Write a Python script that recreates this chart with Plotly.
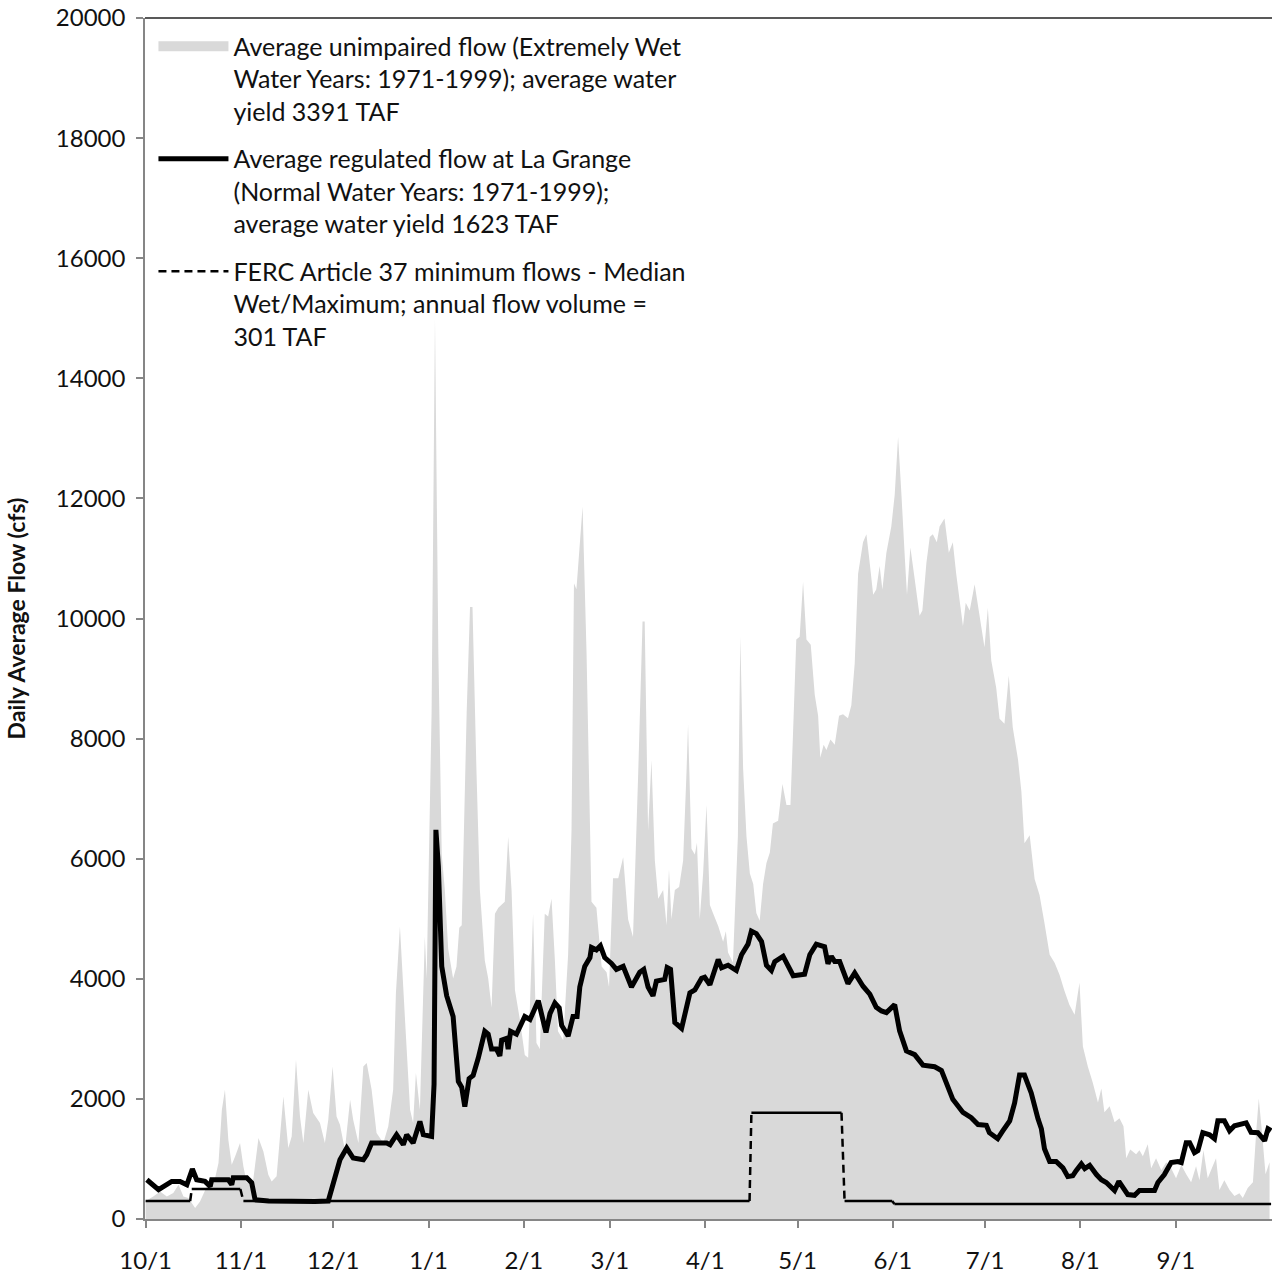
import pandas as pd
import plotly.graph_objects as go

WATER_YEAR_START = "2000-10-01"

# Average unimpaired flow (days since 10/1, cfs)
UNIMPAIRED_DAY = [0, 2.5, 4.7, 6.9, 9, 10.7, 12.3, 13.9, 16.1, 17.7, 19.9, 22.6, 23.7, 24.8, 25.8, 26.9, 28, 29.1,
                  30.7, 31.8, 32.9, 35, 36.7, 38.3, 39.9, 41, 42.6, 44.8, 46.4, 47.5, 48.9, 50.2, 51.3, 52.9, 54.5,
                  56.7, 58.3, 59.4, 60.8, 62.1, 63.2, 64.8, 66.5, 67.5, 69.2, 70.8, 71.9, 73.5, 75.1, 77.3, 78.9,
                  80.5, 81.4, 82.7, 84.3, 86, 87, 87.9, 89.2, 90.8, 91.4, 93, 94.1, 95.2, 96.3, 97.3, 98.4, 100,
                  101.1, 102, 102.8, 104.4, 105.5, 106.3, 107.6, 108.7, 110.3, 111.4, 112.5, 113.6, 114.7, 116.8,
                  117.9, 119, 120.1, 121.7, 123.3, 124.4, 126, 127.1, 128.2, 129.8, 130.9, 132, 133.1, 134.1, 135.8,
                  137.4, 138.5, 139.3, 140.1, 142.1, 143.4, 145, 146.6, 148.3, 149.9, 150.7, 152, 153.7, 155.3,
                  156.9, 158.5, 160.2, 161.6, 162.3, 163.4, 164.5, 165.6, 166.7, 168.3, 169.4, 170.2, 171, 172.1,
                  173.5, 174.8, 175.9, 176.4, 177.5, 178.6, 179.3, 180.2, 181.3, 182.4, 183.5, 184.5, 186.2, 187.8,
                  188.7, 189.4, 191, 192.6, 193.4, 194.3, 195.4, 196.5, 197.6, 198.6, 199.7, 200.8, 201.9, 203, 204,
                  205.7, 207.1, 208.4, 209.7, 210.5, 211.6, 212.7, 213.8, 214.9, 216.3, 217.6, 218.7, 219.4, 220.5,
                  221.4, 222.7, 224.1, 225.5, 226.8, 228.4, 229.5, 230.6, 231.7, 233.3, 234.4, 235.3, 236.6, 237.6,
                  238.7, 239.6, 240.9, 242.5, 243.6, 244.7, 245.8, 246.9, 247.6, 248.7, 250.1, 251.7, 252.6, 253.9,
                  255, 256, 257.3, 258.2, 259.8, 261.2, 262.5, 263.6, 265.8, 266.7, 268, 269.6, 271.2, 272.8, 273.9,
                  275, 276.6, 277.7, 279.3, 280.7, 282, 283.7, 284.8, 285.8, 287.5, 289.1, 290.7, 292.3, 294, 295.6,
                  297.2, 298.8, 300.4, 302.1, 303.7, 304.8, 306.4, 308, 309.7, 310.8, 311.8, 313.5, 315.1, 316.7,
                  318, 318.9, 320.2, 322.1, 323.2, 324.3, 325.9, 327, 328.6, 330.3, 331.9, 333.5, 335.1, 336.8,
                  338.4, 340, 341.6, 342.7, 344, 345.4, 347, 348.1, 349.2, 350.8, 352.5, 354.1, 355.7, 356.8, 358.4,
                  360.1, 361.2, 362, 363.1, 364.2, 365.5]
UNIMPAIRED_CFS = [300, 376, 460, 376, 433, 571, 376, 350, 183, 293, 543, 683, 932, 1820, 2153, 1320, 904, 1042,
                  1265, 876, 599, 654, 1349, 1126, 738, 626, 710, 2041, 1182, 1375, 2652, 1708, 1265, 2153, 1765,
                  1598, 1265, 1654, 2541, 1708, 1570, 1154, 1986, 1654, 1265, 2541, 2597, 2153, 1432, 1265, 1542,
                  2153, 3762, 4872, 3373, 1820, 1598, 2430, 1820, 4700, 4004, 8430, 15000, 9407, 6068, 5483, 4497,
                  4004, 4206, 4850, 4893, 8424, 10193, 10193, 7443, 5478, 4304, 4010, 3518, 5085, 5185, 5284, 6364,
                  5478, 3813, 3322, 2730, 2685, 5085, 2929, 2830, 5085, 5036, 5331, 4304, 3125, 2978, 4403, 6464,
                  10585, 10487, 11863, 9407, 5284, 5185, 4206, 4108, 3863, 5676, 5676, 6024, 4990, 4695, 7443, 9950,
                  9950, 6464, 7640, 5970, 5331, 5478, 4893, 5826, 4990, 5478, 5527, 5970, 7443, 8235, 6166, 6068,
                  6265, 4990, 5754, 6893, 5228, 5097, 4878, 4616, 4790, 4440, 4270, 6368, 9695, 7509, 6368, 5754,
                  5579, 5097, 4966, 5579, 5929, 6104, 6586, 6630, 7243, 6893, 6893, 8031, 9650, 9695, 10614, 9650,
                  9563, 8729, 8380, 7680, 7899, 7811, 7986, 7899, 8380, 8407, 8337, 8555, 9256, 10745, 11271, 11403,
                  11008, 10395, 10482, 10876, 10482, 11096, 11534, 12058, 13023, 12058, 11008, 10395, 11184, 10659,
                  10045, 10132, 10920, 11358, 11403, 11271, 11534, 11666, 11096, 11271, 10745, 9870, 10264, 10132,
                  10570, 10045, 9520, 10176, 9300, 8850, 8330, 8248, 9046, 8183, 7651, 7119, 6257, 6390, 5660, 5395,
                  4930, 4399, 4266, 4067, 3801, 3568, 3402, 3934, 2872, 2540, 2274, 1942, 2175, 1776, 1876, 1610,
                  1676, 1543, 1012, 1158, 1078, 1145, 1045, 1244, 845, 1012, 812, 945, 845, 679, 900, 745, 612, 878,
                  645, 1145, 679, 878, 1012, 483, 645, 483, 383, 429, 350, 516, 612, 1476, 2006, 1410, 745, 945]

# Average regulated flow at La Grange (days since 10/1, cfs)
REGULATED_DAY = [0.4, 4.2, 8.5, 11.2, 13.4, 15.2, 16.6, 19.3, 21, 21.5, 26.9, 28, 28.5, 32.9, 34.5, 35.6, 40, 45, 50,
                 55, 59.4, 61.6, 63.2, 65.4, 67.5, 70.8, 71.9, 73.5, 78.4, 79.5, 81.6, 83.8, 84.9, 87, 89.2, 90.3, 93,
                 93.8, 94.4, 95.2, 96.3, 97.9, 100, 101.7, 102.8, 103.8, 105.2, 106.5, 108.2, 110.3, 111.4, 112.5,
                 114.1, 115.2, 115.8, 117.4, 117.9, 118.7, 120.6, 123.3, 125, 127.7, 130.2, 131.5, 133.1, 134.5,
                 135.3, 137.4, 139, 140.3, 141.2, 142.8, 144.5, 145, 146.6, 147.9, 149.3, 151.5, 153.1, 155.3, 158,
                 160.7, 162, 163.4, 165, 166.1, 168.8, 169.6, 170.7, 172.1, 174.3, 177, 178.6, 180.8, 181.8, 183.5,
                 186.2, 187.3, 189.4, 192.1, 193.8, 195.9, 197, 198.6, 200.3, 201.9, 203.5, 204.6, 207.3, 210.6,
                 214.3, 216, 218.1, 220.8, 221.9, 223, 224.1, 225.7, 228.4, 230.6, 233.3, 235.5, 237.6, 239.3, 240.9,
                 243.6, 245.2, 247.4, 250.1, 252.8, 256.6, 258.8, 262.5, 265.8, 268.5, 270.7, 273.4, 274.4, 277.1,
                 278.8, 281, 282.6, 284.2, 285.8, 288, 290.2, 291.3, 292.3, 294, 296.1, 298.3, 299.9, 301.5, 302.6,
                 304.3, 305.4, 307, 309.2, 310.8, 312.4, 315.1, 316.5, 317.8, 319.4, 321.6, 323.2, 328.1, 329.2,
                 331.3, 333.5, 335.7, 336.8, 338.4, 339.5, 341.1, 342.2, 343.8, 346, 347.6, 348.7, 350.8, 352.5,
                 354.1, 357.3, 357.9, 359.5, 361.7, 363.9, 365, 366]
REGULATED_CFS = [654, 488, 626, 626, 571, 832, 654, 626, 543, 654, 654, 571, 688, 688, 604, 321, 300, 290, 300,
                 290, 300, 710, 987, 1182, 1016, 987, 1071, 1265, 1265, 1237, 1404, 1237, 1404, 1265, 1625, 1405,
                 1375, 2240, 6480, 5876, 4206, 3718, 3372, 2291, 2193, 1870, 2339, 2389, 2685, 3125, 3077, 2830,
                 2830, 2714, 2978, 3008, 2830, 3125, 3077, 3372, 3322, 3636, 3107, 3420, 3598, 3518, 3223, 3047,
                 3372, 3372, 3863, 4206, 4354, 4521, 4482, 4550, 4354, 4256, 4157, 4206, 3863, 4108, 4157, 3863,
                 3715, 3961, 3990, 4187, 4157, 3273, 3175, 3765, 3813, 4009, 4026, 3901, 4320, 4184, 4226, 4139,
                 4401, 4577, 4795, 4752, 4620, 4226, 4139, 4287, 4376, 4051, 4077, 4401, 4577, 4533, 4252, 4376,
                 4287, 4287, 3920, 4096, 3876, 3745, 3526, 3465, 3438, 3570, 3132, 2799, 2737, 2562, 2536, 2474,
                 1993, 1775, 1686, 1573, 1560, 1437, 1337, 1470, 1635, 1933, 2398, 2398, 2099, 1668, 1502, 1170, 957,
                 957, 852, 706, 719, 806, 918, 840, 893, 740, 653, 607, 474, 627, 541, 407, 395, 474, 474, 607, 740,
                 939, 957, 939, 1271, 1271, 1104, 1137, 1437, 1403, 1337, 1635, 1635, 1470, 1553, 1582, 1602, 1444,
                 1437, 1303, 1502, 1470]

# FERC Article 37 minimum flow schedule (step segments, days since 10/1)
FERC_START_DAY = [0, 15, 31.8, 197, 227.3, 243.5]
FERC_END_DAY = [14.5, 30.8, 196.4, 226.3, 242.8, 366]
FERC_CFS = [300, 500, 300, 1770, 300, 250]

TICK_DATES = ["2000-10-01", "2000-11-01", "2000-12-01", "2001-01-01", "2001-02-01", "2001-03-01",
              "2001-04-01", "2001-05-01", "2001-06-01", "2001-07-01", "2001-08-01", "2001-09-01"]
TICK_LABELS = ["10/1", "11/1", "12/1", "1/1", "2/1", "3/1", "4/1", "5/1", "6/1", "7/1", "8/1", "9/1"]

NAME_UNIMP = "Average unimpaired flow (Extremely Wet<br>Water Years: 1971-1999); average water<br>yield 3391 TAF"
NAME_REG = "Average regulated flow at La Grange<br>(Normal Water Years: 1971-1999);<br>average water yield 1623 TAF"
NAME_FERC = "FERC Article 37 minimum flows - Median<br>Wet/Maximum; annual flow volume =<br>301 TAF"

start = pd.Timestamp(WATER_YEAR_START)


def to_dates(days):
    return [start + pd.Timedelta(days=d) for d in days]


FONT = "Lato"
TXT = "#111111"
GRAY = "#d9d9d9"

fig = go.Figure()

fig.add_trace(go.Scatter(
    x=to_dates(UNIMPAIRED_DAY), y=UNIMPAIRED_CFS, mode="none", fill="tozeroy",
    fillcolor=GRAY, showlegend=False, legendgroup="a",
))
# legend swatch for the unimpaired-flow area (a wide gray band, like the reference)
fig.add_trace(go.Scatter(
    x=[None], y=[None], mode="lines", line=dict(color=GRAY, width=12),
    name=NAME_UNIMP, legendgroup="a", legendrank=1,
))

# FERC solid horizontal segments
fx, fy = [], []
for s, e, v in zip(FERC_START_DAY, FERC_END_DAY, FERC_CFS):
    fx += to_dates([s, e]) + [None]
    fy += [v, v, None]
fig.add_trace(go.Scatter(x=fx, y=fy, mode="lines", line=dict(color="black", width=2.5),
                         showlegend=False, legendgroup="c", hoverinfo="skip"))
# FERC dashed transitions
dx, dy = [], []
for i in range(len(FERC_CFS) - 1):
    dx += to_dates([FERC_END_DAY[i], FERC_START_DAY[i + 1]]) + [None]
    dy += [FERC_CFS[i], FERC_CFS[i + 1], None]
fig.add_trace(go.Scatter(x=dx, y=dy, mode="lines", line=dict(color="black", width=2.5, dash="8px,5px"),
                         name=NAME_FERC, legendgroup="c", legendrank=3))

fig.add_trace(go.Scatter(
    x=to_dates(REGULATED_DAY), y=REGULATED_CFS, mode="lines",
    line=dict(color="black", width=5), name=NAME_REG, legendgroup="b", legendrank=2,
))

fig.add_shape(type="line", xref="paper", yref="paper", x0=0, x1=1, y0=1, y1=1,
              line=dict(color="#222222", width=1.5))

fig.update_layout(
    width=1273, height=1276,
    margin=dict(l=145, r=1, t=18, b=57),
    paper_bgcolor="white", plot_bgcolor="white",
    font=dict(family=FONT, color=TXT),
    showlegend=True,
    legend=dict(x=0.0075, y=0.9955, xanchor="left", yanchor="top", bgcolor="rgba(0,0,0,0)",
                font=dict(family=FONT, size=25, color=TXT), valign="top",
                tracegroupgap=12, itemwidth=70),
    xaxis=dict(
        type="date", range=[start - pd.Timedelta(days=0.2), start + pd.Timedelta(days=366.3)],
        tickmode="array", tickvals=TICK_DATES, ticktext=TICK_LABELS,
        showgrid=False, zeroline=False, showline=True, linecolor="#868686", linewidth=1.5,
        ticks="outside", ticklen=7, tickcolor="#868686", tickwidth=1.5,
        tickfont=dict(family=FONT, size=24, color=TXT), ticklabelstandoff=12,
    ),
    yaxis=dict(
        range=[0, 20000], dtick=2000, tickformat="d",
        showgrid=False, zeroline=False, showline=True, linecolor="#868686", linewidth=1.5,
        ticks="outside", ticklen=7, tickcolor="#868686", tickwidth=1.5,
        tickfont=dict(family=FONT, size=24, color=TXT), ticklabelstandoff=6,
        title=dict(text="<b>Daily Average Flow (cfs)</b>", font=dict(family=FONT, size=23, color=TXT),
                   standoff=24),
    ),
)

fig.write_html("out.html", config={"displayModeBar": False},
               post_script="document.body.style.margin='0';document.body.style.overflow='hidden';")
